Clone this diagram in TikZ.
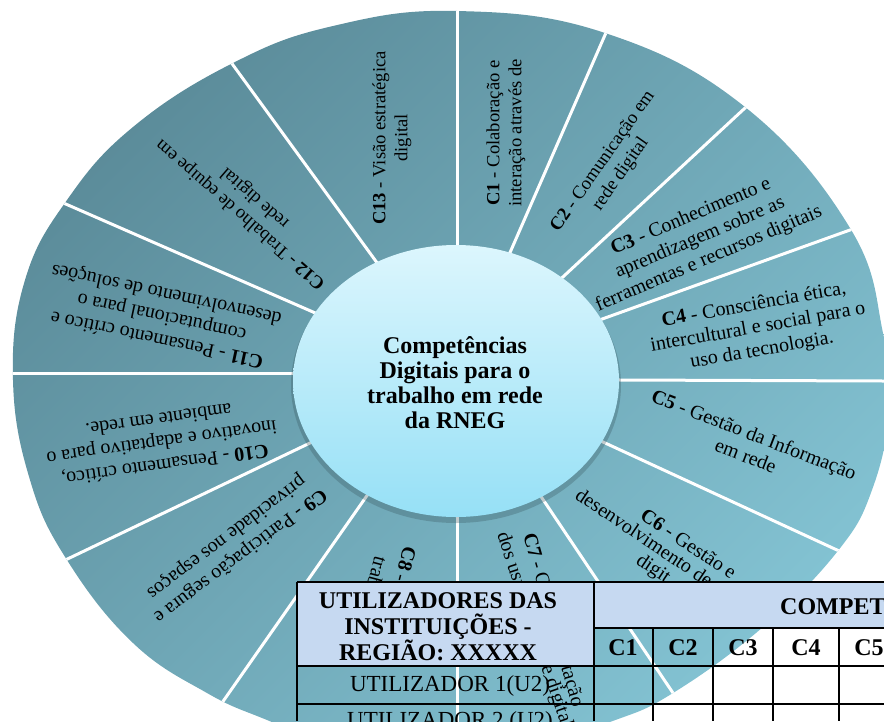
\documentclass[tikz,border=0pt]{standalone}
\usepackage{fontspec}
\setmainfont{Liberation Serif}
\usetikzlibrary{calc}

\definecolor{wheelDark}{RGB}{90,138,152}
\definecolor{wheelLight}{RGB}{132,196,212}
\definecolor{hubTop}{RGB}{220,246,253}
\definecolor{hubBottom}{RGB}{150,224,246}
\definecolor{headFill}{RGB}{198,217,241}

\newcommand\sectfont{\fontsize{20}{23}\selectfont}
\newcommand\upfont{\fontsize{18.6}{22}\selectfont}
\newcommand\hubfont{\fontsize{24}{25}\selectfont\bfseries}
\newcommand\headfont{\fontsize{24}{26}\selectfont\bfseries}
\newcommand\rowfont{\fontsize{23}{26}\selectfont}

\tikzset{
  sect/.style={font=\sectfont, align=center, inner sep=0pt},
  upsect/.style={sect, font=\upfont},
  frag/.style={font=\sectfont, anchor=base west, inner sep=0pt},
  divider/.style={white, line width=3pt},
  grid/.style={black, line width=2.6pt},
  headtxt/.style={font=\headfont, align=center, inner sep=0pt},
  rowtxt/.style={font=\rowfont, inner sep=0pt}
}

\begin{document}
\begin{tikzpicture}[x=1pt,y=-1pt]

	\useasboundingbox (0,0) rectangle (884,721);
	\clip (0,0) rectangle (884,721);

	%% wheel
	\begin{scope}
		\clip plot[smooth cycle, tension=0.7] coordinates {(457,11) (605,33) (745,107) (850,228) (883,333) (889,410) (872,490) (837,552) (763,627) (673,693) (610,722) (520,750) (440,760) (340,748) (267,720) (207,693) (133,643) (67,560) (30,480) (13,380) (25,280) (67,200) (133,127) (233,63) (333,26)};
		\shade[top color=wheelDark, bottom color=wheelLight, shading angle=45] (-20,-20) rectangle (910,780);
		\foreach \xa/\ya/\xb/\yb in {457/245/457/12, 512/248/605/35, 565/275/745/108, 605/318/850/230,
			622/380/884/381, 603/442/837/550, 542/498/673/693, 457/517/457/721, 366/497/231/690,
			310/443/80/553, 293/373/18/373, 313/312/68/205, 375/260/233/65}
			\draw[divider] ($(\xa,\ya)!-0.1!(\xb,\yb)$) -- ($(\xa,\ya)!1.3!(\xb,\yb)$);
	\end{scope}

	%% hub
	\fill[wheelDark!60!black, opacity=0.3] (456,385) ellipse (165 and 138);
	\shade[top color=hubTop, bottom color=hubBottom] (456,381) ellipse (163 and 136);
	\node[font=\hubfont, align=center] (hub) at (455,383) {Competências\\Digitais para o\\trabalho em rede\\da RNEG};

	%% sectors
	\node[upsect, rotate=90] (c1) at (506,133) {\textbf{C1} - Colaboração e\\interação através de};
	\node[upsect, rotate=55] (c2) at (612,168) {\textbf{C2} - Comunicação em\\rede digital};
	\node[sect, rotate=23] (c3) at (700,238) {\textbf{C3} - Conhecimento e\\aprendizagem sobre as\\ferramentas e recursos digitais};
	\node[sect, rotate=10] (c4) at (758,328) {\textbf{C4} - Consciência ética,\\intercultural e social para o\\uso da tecnologia.};
	\node[sect, rotate=-21] (c5) at (750,445) {\textbf{C5} - Gestão da Informação\\em rede};
	\node[frag, rotate=-34] (c6a) at (639,518) {\textbf{C6} - Gestão e};
	\node[frag, rotate=-34] (c6b) at (574,498) {desenvolvimento de};
	\node[frag, rotate=-34] (c6c) at (635,563) {digit};
	\node[frag, rotate=-74] (c7a) at (523,535) {\textbf{C7} - G};
	\node[frag, rotate=-72] (c7b) at (497,534) {dos usu};
	\node[frag, rotate=-74] (c7c) at (561,667) {tação};
	\node[frag, rotate=-71] (c7d) at (541,667) {e digital};
	\node[frag, rotate=-105] (c8a) at (404,545) {\textbf{C8} -};
	\node[frag, rotate=-105] (c8b) at (375,555) {trab};
	\node[sect, rotate=217] (c9) at (233,546) {\textbf{C9} - Participação segura e\\privacidade nos espaços};
	\node[sect, rotate=188] (c10) at (162,443) {\textbf{C10} - Pensamento crítico,\\inovativo e adaptativo para o\\ambiente em rede.};
	\node[sect, rotate=168] (c11) at (162,316) {\textbf{C11} - Pensamento crítico e\\computacional para o\\desenvolvimento de soluções};
	\node[upsect, rotate=139] (c12) at (248,206) {\textbf{C12} - Trabalho de equipe em\\rede digital};
	\node[upsect, rotate=90] (c13) at (392,138) {\textbf{C13} - Visão estratégica\\digital};

	%% table
	\fill[headFill] (297,582) rectangle (594,666);
	\fill[headFill] (594,582) rectangle (884,628);
	\draw[grid] (297,582) -- (884,582);
	\draw[grid] (594,628) -- (884,628);
	\draw[grid] (297,666) -- (884,666);
	\draw[grid] (297,704) -- (884,704);
	\draw[grid] (297,582) -- (297,721);
	\draw[grid] (594,582) -- (594,721);
	\foreach \x in {653,713,773,839}
		\draw[grid] (\x,628) -- (\x,721);

	\node[headtxt] (users) at (438,627) {UTILIZADORES DAS\\INSTITUIÇÕES -\\REGIÃO: XXXXX};
	\node[headtxt, anchor=west] (comp) at (780,607) {COMPET};
	\foreach \x/\c in {623/C1, 683/C2, 743/C3, 806/C4, 869/C5}
		\node[headtxt] (h\c) at (\x,648) {\c};
	\node[rowtxt] (u1) at (450,686) {UTILIZADOR 1(U2)};
	\node[rowtxt] (u2) at (450,722) {UTILIZADOR 2 (U2)};

\end{tikzpicture}
\end{document}
